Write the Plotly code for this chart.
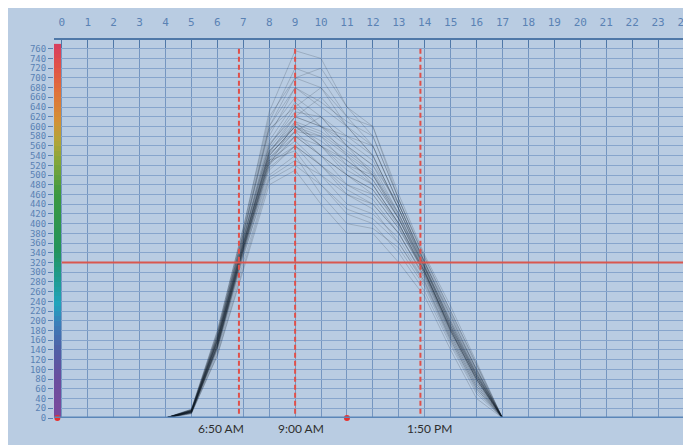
import plotly.graph_objects as go

# ---------------- data ----------------
hours = [4, 5, 6, 7, 8, 9, 10, 11, 12, 13, 14, 15, 16, 17]

day_01 = [0, 14, 160, 360, 540, 600, 560, 520, 480, 400, 300, 180, 80, 0]
day_02 = [0, 12, 150, 350, 530, 590, 620, 560, 500, 410, 310, 190, 90, 0]
day_03 = [0, 16, 170, 380, 600, 700, 680, 600, 540, 430, 320, 200, 100, 0]
day_04 = [0, 10, 140, 330, 510, 560, 520, 480, 450, 380, 290, 170, 70, 0]
day_05 = [0, 18, 180, 390, 630, 756, 740, 640, 580, 450, 330, 220, 110, 0]
day_06 = [0, 13, 155, 355, 545, 620, 600, 540, 500, 420, 305, 185, 85, 0]
day_07 = [0, 11, 145, 340, 520, 580, 540, 500, 460, 390, 295, 175, 75, 0]
day_08 = [0, 15, 165, 370, 560, 640, 600, 560, 520, 440, 315, 195, 95, 0]
day_09 = [0, 12, 150, 345, 525, 560, 500, 440, 420, 370, 280, 160, 60, 0]
day_10 = [0, 14, 160, 365, 580, 680, 640, 600, 560, 440, 320, 210, 100, 0]
day_11 = [0, 9, 130, 310, 490, 520, 480, 420, 400, 340, 260, 150, 50, 0]
day_12 = [0, 17, 175, 385, 610, 720, 700, 620, 600, 460, 335, 230, 115, 0]
day_13 = [0, 13, 158, 358, 550, 600, 560, 530, 490, 410, 300, 180, 80, 0]
day_14 = [0, 12, 148, 348, 535, 590, 580, 540, 480, 400, 300, 185, 85, 0]
day_15 = [0, 16, 168, 375, 590, 660, 620, 580, 540, 430, 310, 200, 95, 0]
day_16 = [0, 11, 142, 335, 500, 540, 460, 400, 390, 350, 270, 155, 55, 0]
day_17 = [0, 14, 162, 362, 555, 620, 660, 600, 540, 430, 315, 195, 90, 0]
day_18 = [0, 15, 155, 350, 530, 570, 520, 460, 440, 380, 290, 170, 70, 0]
day_19 = [0, 10, 135, 320, 495, 530, 500, 460, 430, 360, 275, 160, 60, 0]
day_20 = [0, 18, 178, 392, 620, 700, 720, 640, 600, 450, 325, 215, 105, 0]
day_21 = [0, 13, 152, 352, 540, 600, 580, 520, 500, 410, 305, 180, 80, 0]
day_22 = [0, 12, 147, 342, 520, 610, 560, 500, 470, 400, 295, 175, 75, 0]
day_23 = [0, 16, 166, 372, 570, 650, 600, 580, 560, 440, 320, 205, 100, 0]
day_24 = [0, 14, 158, 356, 545, 590, 540, 480, 460, 390, 300, 185, 85, 0]
day_25 = [0, 11, 144, 338, 515, 560, 520, 470, 440, 380, 285, 165, 65, 0]
day_26 = [0, 15, 163, 366, 560, 630, 620, 560, 520, 420, 310, 190, 90, 0]
day_27 = [0, 13, 150, 348, 525, 580, 560, 510, 480, 400, 300, 180, 80, 0]
day_28 = [0, 17, 172, 380, 600, 680, 650, 610, 580, 450, 330, 220, 110, 0]
day_29 = [0, 12, 146, 344, 530, 550, 480, 430, 410, 360, 280, 165, 65, 0]
day_30 = [0, 14, 160, 360, 550, 610, 590, 550, 510, 420, 310, 190, 88, 0]
day_31 = [0, 9, 128, 305, 480, 510, 440, 380, 380, 320, 250, 140, 40, 0]
day_32 = [0, 16, 170, 378, 595, 640, 680, 620, 560, 440, 320, 210, 98, 0]
day_33 = [0, 13, 154, 354, 540, 600, 570, 530, 490, 410, 302, 182, 82, 0]
day_34 = [0, 15, 164, 368, 565, 620, 600, 570, 530, 430, 312, 196, 92, 0]
day_35 = [0, 12, 150, 350, 535, 580, 540, 500, 470, 395, 296, 178, 78, 0]
day_36 = [0, 14, 158, 358, 548, 605, 585, 545, 505, 415, 308, 188, 86, 0]

days = [day_01, day_02, day_03, day_04, day_05, day_06, day_07, day_08, day_09,
        day_10, day_11, day_12, day_13, day_14, day_15, day_16, day_17, day_18,
        day_19, day_20, day_21, day_22, day_23, day_24, day_25, day_26, day_27,
        day_28, day_29, day_30, day_31, day_32, day_33, day_34, day_35, day_36]

threshold = 320
event_times = [6 + 50 / 60, 9.0, 13 + 50 / 60]
event_labels = ["6:50 AM", "9:00 AM", "1:50 PM"]
event_label_shift = [-18, 6, 9]

marker_x = [-0.17, 11]
marker_y = [0, 0]

x_ticks = list(range(0, 25))
x_ticklabels = [str(v) for v in x_ticks]
y_ticks = list(range(0, 761, 20))
y_ticklabels = [str(v) for v in y_ticks]

scale_values = list(range(0, 761, 10))

# ---------------- figure ----------------
BG = "#b9cce2"
TICKBLUE = "#5a82b4"
fig = go.Figure()

# colour scale strip on the left
fig.add_trace(go.Heatmap(
    x=[-0.3, -0.02],
    y=scale_values + [scale_values[-1] + 10],
    z=[[v] for v in scale_values],
    colorscale=[
        [0.0, "#7b4a9c"], [0.1, "#6a4d9e"], [0.18, "#4f5fa6"], [0.25, "#3a7fba"],
        [0.3, "#22a3bd"], [0.38, "#1f9a8a"], [0.45, "#24945a"], [0.6, "#3c9840"],
        [0.68, "#7ea63a"], [0.74, "#b0a53a"], [0.8, "#d49035"], [0.88, "#e0703a"],
        [0.95, "#e0504a"], [1.0, "#d8405e"]],
    showscale=False, hoverinfo="skip"))

for d in days:
    fig.add_trace(go.Scatter(
        x=hours, y=d, mode="lines",
        line=dict(color="rgba(15,25,40,0.18)", width=1),
        showlegend=False, hoverinfo="skip"))

# threshold line
fig.add_trace(go.Scatter(
    x=[0, 24], y=[threshold, threshold], mode="lines",
    line=dict(color="#d9574f", width=2), showlegend=False, hoverinfo="skip"))

# event lines
for t in event_times:
    fig.add_trace(go.Scatter(
        x=[t, t], y=[9, 760], mode="lines",
        line=dict(color="#e0504a", width=2, dash="5px,3px"),
        showlegend=False, hoverinfo="skip"))

fig.add_trace(go.Scatter(
    x=marker_x, y=marker_y, mode="markers", cliponaxis=False,
    marker=dict(color="#e8312e", size=6), showlegend=False, hoverinfo="skip"))

for t, lab, sh in zip(event_times, event_labels, event_label_shift):
    fig.add_annotation(x=t, y=0, yref="paper", text=lab, showarrow=False,
                       xshift=sh, yshift=-1, yanchor="top", xanchor="center",
                       font=dict(family="Lato", size=12, color="#2e2e2e"))

# bottom axis line and right border
fig.add_shape(type="line", xref="paper", yref="y", x0=0, x1=1, y0=0, y1=0,
              line=dict(color="#5b86b8", width=3))
fig.add_shape(type="line", xref="paper", yref="paper", x0=1, x1=1, y0=0, y1=1,
              line=dict(color="#4f78a8", width=2))

fig.update_layout(
    width=691, height=445,
    margin=dict(l=46, r=8, t=23, b=35),
    paper_bgcolor=BG, plot_bgcolor=BG,
    showlegend=False,
    xaxis=dict(range=[-0.3, 24], side="top", tickmode="array",
               tickvals=x_ticks, ticktext=x_ticklabels,
               ticks="inside", ticklen=8, tickcolor="#4f78a8", tickwidth=1,
               showgrid=True, gridcolor="#7596c0", gridwidth=1, zeroline=False,
               showline=True, linecolor="#4f78a8", linewidth=2,
               ticklabelstandoff=8,
               tickfont=dict(family="DejaVu Sans Mono", size=11, color=TICKBLUE)),
    yaxis=dict(range=[0, 778], tickmode="array",
               tickvals=y_ticks, ticktext=y_ticklabels,
               ticks="outside", ticklen=5, tickcolor=TICKBLUE, tickwidth=1,
               showgrid=True, gridcolor="#87a5cc", gridwidth=1, zeroline=False,
               showline=False,
               tickfont=dict(family="DejaVu Sans Mono", size=9, color=TICKBLUE)),
)

fig.write_html("out.html")
